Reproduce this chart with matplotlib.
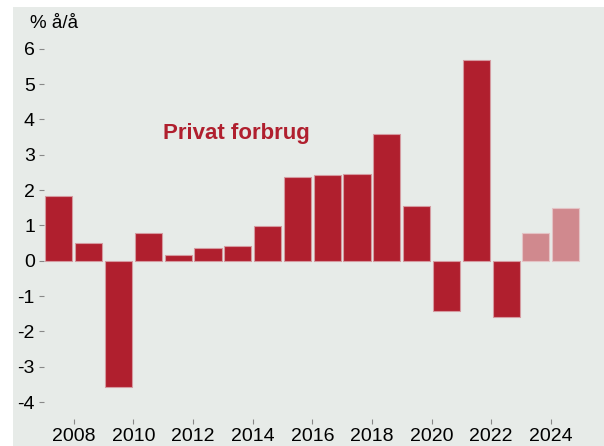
import matplotlib

matplotlib.use("Agg")
import matplotlib.pyplot as plt
from matplotlib.patches import Rectangle

plt.rcParams["font.family"] = ["Liberation Sans", "DejaVu Sans"]
plt.rcParams["axes.unicode_minus"] = False

# annual growth in private consumption, % y/y (last two are forecasts)
years = list(range(2007, 2025))
growth = [1.82, 0.50, -3.58, 0.78, 0.16, 0.37, 0.41, 0.99, 2.36,
          2.42, 2.44, 3.58, 1.56, -1.43, 5.67, -1.59, 0.78, 1.48]
is_forecast = [False] * 16 + [True] * 2

yticks = [-4, -3, -2, -1, 0, 1, 2, 3, 4, 5, 6]
xticks = list(range(2008, 2025, 2))

bg = "#e7ebe8"
red = "#b01f2e"
light_red = "#d0898e"

W, H = 604, 446
fig = plt.figure(figsize=(W / 100, H / 100), dpi=100)
fig.patch.set_facecolor("white")
fig.patches.append(Rectangle((13 / W, 0), 1, 1 - 7 / H, transform=fig.transFigure,
                             facecolor=bg, edgecolor="none", zorder=-10))

ax = fig.add_axes([44 / W, 27 / H, 556 / W, 388 / H])
ax.set_facecolor("none")

colors = [light_red if f else red for f in is_forecast]
edges = ["#e4c3c5" if f else "#d59aa0" for f in is_forecast]
ax.bar([y + 0.5 for y in years], growth, width=0.91, color=colors,
       edgecolor=edges, linewidth=0.8)

ax.set_xlim(2007, 2025.65)
ax.set_ylim(-4.48, 6.5)
ax.set_yticks(yticks)
ax.set_yticklabels([str(v) for v in yticks])
ax.set_xticks(xticks)
for side in ax.spines.values():
    side.set_visible(False)
ax.tick_params(axis="both", colors="#888888", labelcolor="black", labelsize=14,
               length=3.5, width=0.8)
ax.tick_params(axis="y", pad=3)
ax.tick_params(axis="x", pad=3)

fig.text(30 / W, 1 - 24 / H, "% å/å", fontsize=13.5, va="center", ha="left")
fig.text(163 / W, 1 - 133 / H, "Privat forbrug", fontsize=16, fontweight="bold",
         color=red, va="center", ha="left")

fig.savefig("out.png", dpi=100, facecolor=fig.get_facecolor())
